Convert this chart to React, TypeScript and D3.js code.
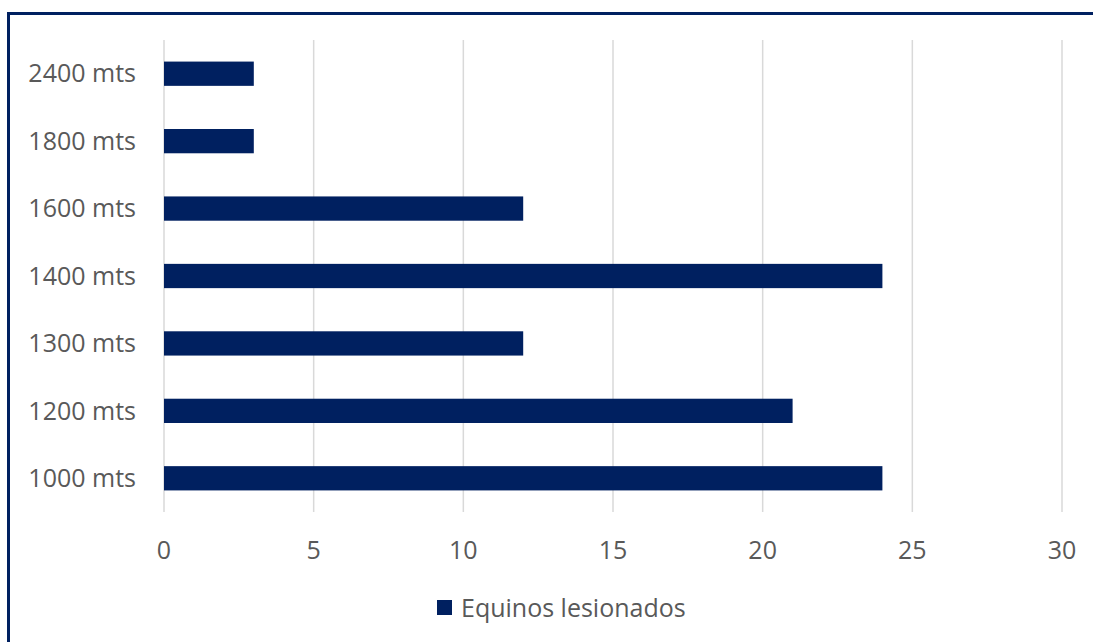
import React from "react";
import * as d3 from "d3";

const categories = ["1000 mts", "1200 mts", "1300 mts", "1400 mts", "1600 mts", "1800 mts", "2400 mts"];
const values = [24, 21, 12, 24, 12, 3, 3];
const xTicks = [0, 5, 10, 15, 20, 25, 30];
const seriesName = "Equinos lesionados";

const W = 1093;
const H = 642;
const barColor = "#002060";
const textColor = "#595959";
const font = "'Open Sans', sans-serif";
const fs = 25;

export default function App() {
  const x = d3.scaleLinear().domain([0, 30]).range([164, 1062]);
  const y = d3
    .scaleBand<string>()
    .domain([...categories].reverse())
    .range([40, 512])
    .paddingInner(0.64)
    .paddingOuter(0.32);
  return (
    <svg width={W} height={H} style={{ position: "absolute", left: 0, top: 0 }}>
      <rect x={0} y={0} width={W} height={H} fill="#fff" />
      <rect x={8.5} y={13.5} width={W + 20} height={H + 20} fill="none" stroke={barColor} strokeWidth={3} />
      {xTicks.map((t) => (
        <line key={t} x1={x(t)} x2={x(t)} y1={40} y2={512} stroke="#d9d9d9" strokeWidth={1.5} />
      ))}
      {categories.map((c, i) => (
        <rect key={c} x={x(0)} y={y(c)!} width={x(values[i]) - x(0)} height={y.bandwidth()} fill={barColor} />
      ))}
      {categories.map((c) => (
        <text key={c} x={136} y={y(c)! + y.bandwidth() / 2} dy="0.35em" textAnchor="end" fontFamily={font} fontSize={fs} fill={textColor}>
          {c}
        </text>
      ))}
      {xTicks.map((t) => (
        <text key={t} x={x(t)} y={550} dy="0.35em" textAnchor="middle" fontFamily={font} fontSize={fs} fill={textColor}>
          {t}
        </text>
      ))}
      <rect x={437} y={600} width={15} height={15} fill={barColor} />
      <text x={461} y={608} dy="0.35em" fontFamily={font} fontSize={fs} fill={textColor}>
        {seriesName}
      </text>
    </svg>
  );
}
